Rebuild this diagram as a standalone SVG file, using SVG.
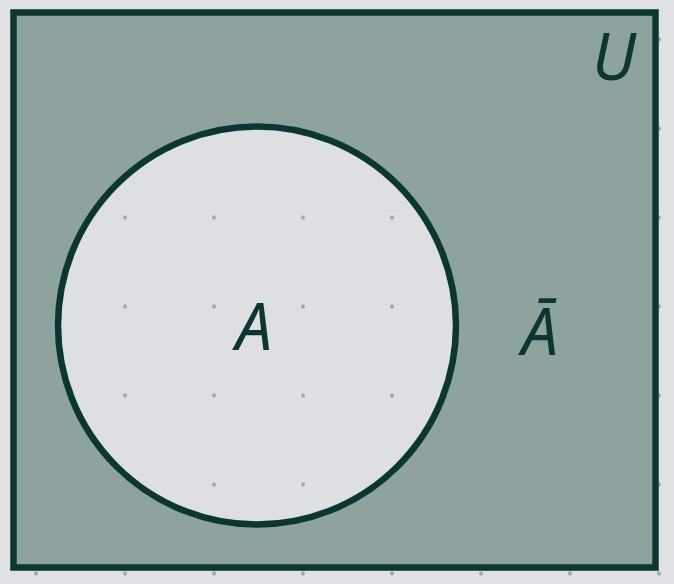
<svg xmlns="http://www.w3.org/2000/svg" width="674" height="584" viewBox="0 0 674 584">
<style>
.lbl{font-family:"Noto Sans","Open Sans",sans-serif;font-style:italic;font-size:65px;fill:#0c3631;text-anchor:middle}
.dot{fill:#9ea2a9}
</style>
<defs>
<pattern id="grid" x="36" y="39.5" width="89" height="89" patternUnits="userSpaceOnUse">
<circle cx="0" cy="0" r="2" class="dot"/>
<circle cx="89" cy="0" r="2" class="dot"/>
<circle cx="0" cy="89" r="2" class="dot"/>
<circle cx="89" cy="89" r="2" class="dot"/>
</pattern>
</defs>
<rect width="674" height="584" fill="#dfe1e5"/>
<rect width="674" height="584" fill="url(#grid)"/>
<g id="universe">
<rect x="13.5" y="12.5" width="642" height="555" fill="#8ea39f" stroke="#0c3631" stroke-width="6.5"/>
<text class="lbl" x="614" y="80">U</text>
</g>
<g id="setA">
<circle cx="257" cy="325.5" r="199" fill="#dddfe3" stroke="#0c3631" stroke-width="6.5"/>
<circle cx="257" cy="325.5" r="195" fill="url(#grid)"/>
<text class="lbl" x="254" y="350">A</text>
</g>
<g id="complement">
<text class="lbl" x="540" y="355">Ā</text>
</g>
<g id="connectors"/>
</svg>
